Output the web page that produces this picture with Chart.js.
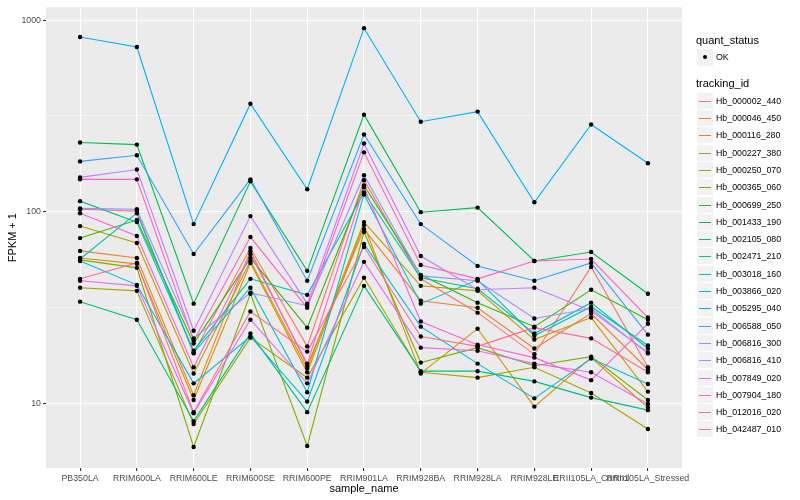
<!DOCTYPE html>
<html>
<head>
<meta charset="utf-8">
<script src="https://cdn.jsdelivr.net/npm/chart.js@4"></script>
<style>
  body { margin: 0; background: #fff; font-family: "Liberation Sans", Arial, sans-serif; }
  #wrap { position: relative; width: 800px; height: 500px; }
  .lg-title { position: absolute; left: 696px; font-size: 11px; line-height: 13px; color: #000; }
  .lg-key { position: absolute; left: 697px; width: 16px; height: 16px; background: #F2F2F2; }
  .lg-line { position: absolute; left: 2px; right: 2px; height: 1.5px; }
  .lg-text { position: absolute; left: 716px; font-size: 8.8px; line-height: 12px; color: #000; white-space: nowrap; }
</style>
</head>
<body>
<div id="wrap">
  <canvas id="chart" width="800" height="500"></canvas>
  <div id="legend"></div>
</div>
<script>
// Échantillons (axe x)
const sampleNames = [
  "PB350LA", "RRIM600LA", "RRIM600LE", "RRIM600SE", "RRIM600PE", "RRIM901LA",
  "RRIM928BA", "RRIM928LA", "RRIM928LE", "RRII105LA_Control", "RRII105LA_Stressed"
];

const trackingIds = [
  "Hb_000002_440", "Hb_000046_450", "Hb_000116_280", "Hb_000227_380", "Hb_000250_070",
  "Hb_000365_060", "Hb_000699_250", "Hb_001433_190", "Hb_002105_080", "Hb_002471_210",
  "Hb_003018_160", "Hb_003866_020", "Hb_005295_040", "Hb_006588_050", "Hb_006816_300",
  "Hb_006816_410", "Hb_007849_020", "Hb_007904_180", "Hb_012016_020", "Hb_042487_010"
];

// FPKM + 1 par gène, dans l'ordre des échantillons
const hb_000002_440 = [103, 100.7, 18.2, 64.6, 19.8, 146, 44.6, 29.7, 18.0, 51.5, 15.4];
const hb_000046_450 = [62.4, 57.3, 11.0, 62.4, 15.7, 81.1, 34.3, 31.5, 19.3, 29.4, 15.0];
const hb_000116_280 = [57.3, 53.4, 10.4, 54.0, 14.5, 85.1, 14.3, 24.5, 9.6, 17.3, 9.5];
const hb_000227_380 = [84.1, 68.6, 14.3, 55.3, 15.2, 88.2, 41.0, 38.6, 21.5, 28.0, 11.5];
const hb_000250_070 = [40.1, 38.6, 7.78, 22.0, 13.6, 45.2, 14.5, 13.6, 15.4, 11.3, 7.33];
const hb_000365_060 = [56.0, 50.9, 5.91, 37.3, 5.98, 78.3, 16.3, 19.5, 15.7, 17.5, 10.4];
const hb_000699_250 = [72.8, 90.4, 20.5, 57.3, 24.8, 137, 46.8, 33.5, 25.1, 39.1, 27.3];
const hb_001433_190 = [229.6, 224, 33.1, 144, 49.1, 321, 99.4, 105, 55.3, 61.6, 37.3];
const hb_002105_080 = [33.9, 27.3, 8.06, 23.1, 8.98, 41.0, 14.7, 14.7, 13.0, 10.7, 9.2];
const hb_002471_210 = [113.5, 88.2, 18.8, 44.6, 36.8, 126, 45.2, 39.6, 23.1, 33.5, 19.3];
const hb_003018_160 = [56.6, 98.2, 18.4, 40.1, 11.4, 123, 33.1, 44.1, 22.5, 31.9, 20.0];
const hb_003866_020 = [55.3, 41.5, 12.7, 22.3, 10.2, 67.8, 25.1, 16.1, 10.6, 17.1, 12.6];
const hb_005295_040 = [816, 724, 86.1, 366, 131, 908, 295, 333, 112, 285, 179];
const hb_006588_050 = [183, 197, 60.1, 147.5, 43.6, 253, 86.1, 52.1, 43.6, 54.0, 22.8];
const hb_006816_300 = [104, 103, 21.8, 37.7, 32.3, 155, 46.2, 43.6, 27.7, 31.2, 18.2];
const hb_006816_410 = [151, 166, 23.9, 94.8, 33.1, 227, 58.7, 39.1, 40.1, 30.4, 18.4];
const hb_007849_020 = [43.6, 41.0, 8.87, 27.3, 12.7, 54.7, 19.5, 18.8, 16.1, 14.5, 9.9];
const hb_007904_180 = [98.2, 74.6, 15.4, 60.1, 16.1, 134, 26.7, 20.2, 17.3, 13.2, 26.0];
const hb_012016_020 = [147.5, 147.5, 21.2, 73.7, 31.5, 204, 52.7, 44.6, 55.3, 56.6, 28.0];
const hb_042487_010 = [44.6, 54.0, 8.98, 30.1, 18.6, 65.4, 22.3, 19.8, 24.8, 21.8, 14.5];

const fpkmPlusOne = [
  hb_000002_440, hb_000046_450, hb_000116_280, hb_000227_380, hb_000250_070,
  hb_000365_060, hb_000699_250, hb_001433_190, hb_002105_080, hb_002471_210,
  hb_003018_160, hb_003866_020, hb_005295_040, hb_006588_050, hb_006816_300,
  hb_006816_410, hb_007849_020, hb_007904_180, hb_012016_020, hb_042487_010
];

// Graduations de l'axe y
const majorBreaks = [10, 100, 1000];
const minorBreaks = [31.62, 316.2];

// Palette ggplot (hue_pal, 20 niveaux)
const seriesColors = [
  "#F8766D", "#EA8331", "#D89000", "#C09B00", "#A3A500", "#7CAE00", "#39B600",
  "#00BB4E", "#00BF7D", "#00C1A3", "#00BFC4", "#00BAE0", "#00B0F6", "#35A2FF",
  "#9590FF", "#C77CFF", "#E76BF3", "#FA62DB", "#FF62BC", "#FF6C91"
];

const FONT = "'Liberation Sans', Arial, sans-serif";

// Fond gris du panneau
const panelBackground = {
  id: "panelBackground",
  beforeDraw(chart) {
    const { ctx, chartArea: { left, top, width, height } } = chart;
    ctx.save();
    ctx.fillStyle = "#EBEBEB";
    ctx.fillRect(left, top, width, height);
    ctx.restore();
  },
};

function renderChart() {
  const datasets = fpkmPlusOne.map((values, i) => ({
    type: "line",
    label: trackingIds[i],
    data: values.map((v, j) => ({ x: j, y: v })),
    borderColor: seriesColors[i],
    borderWidth: 1.1,
    pointRadius: 0,
    tension: 0,
    order: trackingIds.length - i,
  }));

  datasets.push({
    type: "scatter",
    label: "OK",
    data: fpkmPlusOne.flatMap((values) => values.map((v, j) => ({ x: j, y: v }))),
    backgroundColor: "#000",
    borderWidth: 0,
    pointRadius: 2.2,
    order: 0,
  });

  new Chart(document.getElementById("chart"), {
    data: { datasets },
    plugins: [panelBackground],
    options: {
      responsive: false,
      animation: false,
      layout: { padding: { top: 5, right: 118, left: 0, bottom: 0 } },
      plugins: {
        legend: { display: false },
        tooltip: { enabled: false },
      },
      scales: {
        x: {
          type: "linear",
          min: -0.6,
          max: 10.6,
          afterBuildTicks: (scale) => {
            scale.ticks = sampleNames.map((_, i) => ({ value: i }));
          },
          afterFit: (scale) => { scale.height = 32; },
          ticks: {
            autoSkip: false,
            maxRotation: 0,
            minRotation: 0,
            padding: 2,
            color: "#4D4D4D",
            font: { family: FONT, size: 8.8 },
            callback: (value) => sampleNames[value],
          },
          grid: { color: "#FFFFFF", lineWidth: 1.1, tickLength: 3, tickColor: "#333333" },
          border: { display: false },
          title: {
            display: true,
            text: "sample_name",
            color: "#000",
            font: { family: FONT, size: 11 },
            padding: { top: 0, bottom: 4 },
          },
        },
        y: {
          type: "logarithmic",
          min: 4.59,
          max: 1167,
          afterBuildTicks: (scale) => {
            scale.ticks = [...majorBreaks, ...minorBreaks]
              .sort((a, b) => a - b)
              .map((v) => ({ value: v }));
          },
          afterFit: (scale) => { scale.width = 46; },
          ticks: {
            padding: 2,
            color: "#4D4D4D",
            font: { family: FONT, size: 8.8 },
            callback: (value) => (majorBreaks.includes(value) ? String(value) : ""),
          },
          grid: {
            color: "#FFFFFF",
            lineWidth: (ctx) => (majorBreaks.includes(ctx.tick && ctx.tick.value) ? 1.1 : 0.55),
            tickLength: 3,
            tickColor: (ctx) => (majorBreaks.includes(ctx.tick && ctx.tick.value) ? "#333333" : "rgba(0,0,0,0)"),
          },
          border: { display: false },
          title: {
            display: true,
            text: "FPKM + 1",
            color: "#000",
            font: { family: FONT, size: 11 },
            padding: { top: 6, bottom: 0 },
          },
        },
      },
    },
  });
}

// Légende façon ggplot (à droite)
function renderLegend() {
  const legend = document.getElementById("legend");
  let html = "";

  html += '<div class="lg-title" style="top:34px">quant_status</div>';
  html += '<div class="lg-key" style="top:49px;height:17px">' +
    '<div style="position:absolute;left:6px;top:6px;width:4px;height:4px;border-radius:2px;background:#000"></div></div>';
  html += '<div class="lg-text" style="top:51px">OK</div>';

  html += '<div class="lg-title" style="top:77px">tracking_id</div>';

  trackingIds.forEach((id, i) => {
    const center = Math.round(100.7 + 17.3 * i);
    html += `<div class="lg-key" style="top:${center - 8}px;height:16px">` +
      `<div class="lg-line" style="top:7.5px;background:${seriesColors[i]}"></div></div>`;
    html += `<div class="lg-text" style="top:${center - 6}px">${id}</div>`;
  });

  legend.innerHTML = html;
}

renderChart();
renderLegend();
</script>
</body>
</html>
